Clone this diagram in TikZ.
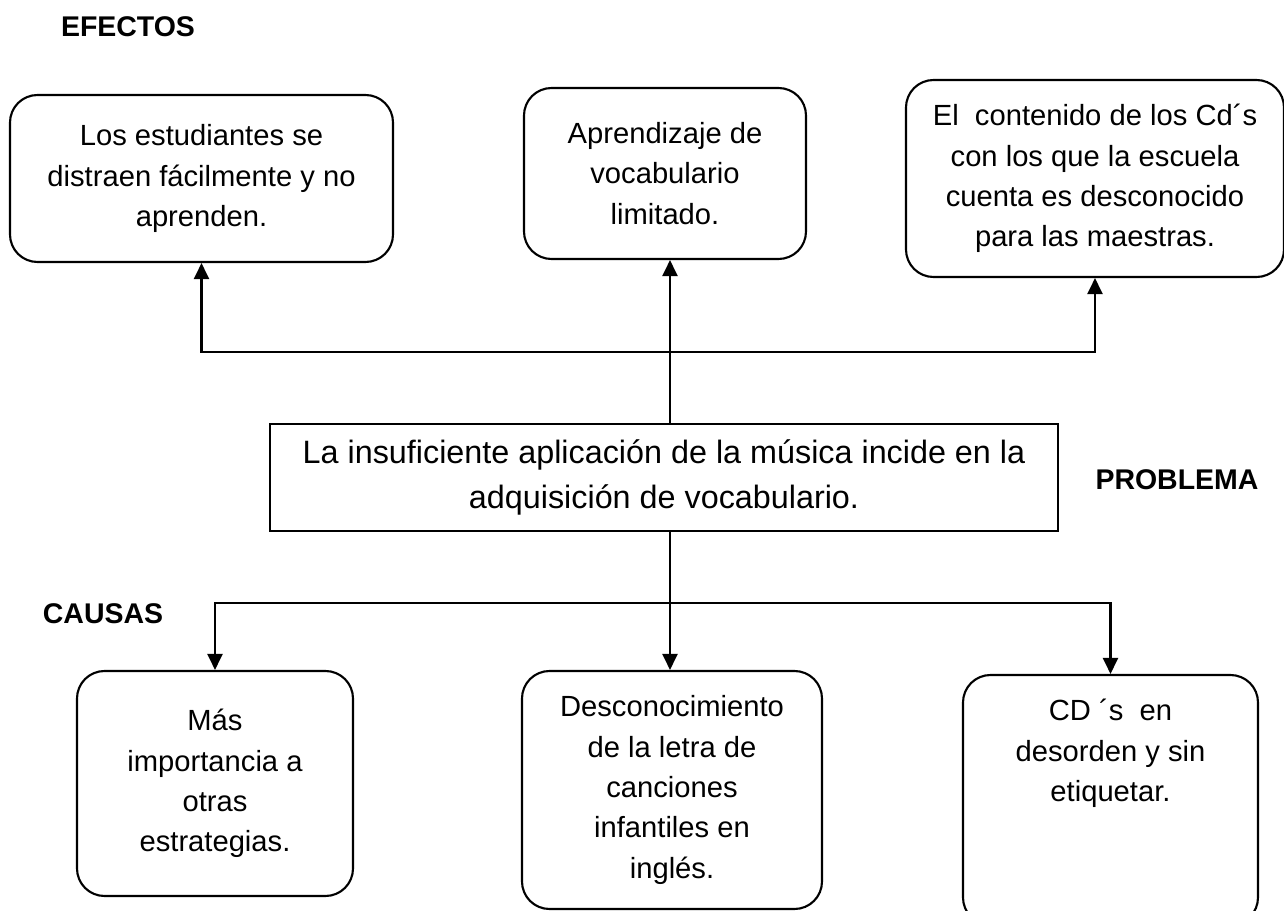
\documentclass[tikz,border=0pt]{standalone}
\usepackage{fontspec}
\setmainfont{Liberation Sans}
\usetikzlibrary{arrows.meta,positioning,calc}

\tikzset{
    caja/.style={draw, line width=1.2pt, rounded corners=0.55cm, align=center, inner sep=0pt,
        font=\fontsize{16.6}{23}\selectfont},
    problema/.style={draw, line width=1.2pt, align=center, inner sep=0pt,
        font=\fontsize{18.4}{25.6}\selectfont},
    titulo/.style={font=\fontsize{16.2}{19}\selectfont\bfseries},
    flecha/.style={line width=1.3pt, -{Triangle[length=0.32cm,width=0.3cm]}}
}

\begin{document}
\begin{tikzpicture}
                \useasboundingbox (0,0) rectangle (25.68,-18.22);

                %Titles
                \node[titulo] at (2.56,-0.54) (efectos) {EFECTOS};
                \node[titulo] at (23.54,-9.6) (problemalbl) {PROBLEMA};
                \node[titulo] at (2.06,-12.28) (causas) {CAUSAS};

                %Nodes
                \node[caja, minimum width=7.66cm, minimum height=3.34cm] at (4.03,-3.57) (t1)
                    {Los estudiantes se\\distraen fácilmente y no\\aprenden.};
                \node[caja, minimum width=5.64cm, minimum height=3.42cm] at (13.3,-3.47) (t2)
                    {Aprendizaje de\\vocabulario\\limitado.};
                \node[caja, minimum width=7.56cm, minimum height=3.94cm] at (21.9,-3.57) (t3)
                    {El\ \ contenido de los Cd´s\\con los que la escuela\\cuenta es desconocido\\para las maestras.};
                \node[problema, minimum width=15.76cm, minimum height=2.14cm] at (13.28,-9.55) (prob)
                    {La insuficiente aplicación de la música incide en la\\adquisición de vocabulario.};
                \node[caja, minimum width=5.52cm, minimum height=4.5cm] at (4.3,-15.67) (b1)
                    {Más\\importancia a\\otras\\estrategias.};
                \node[caja, minimum width=6.0cm, minimum height=4.76cm] at (13.44,-15.8) (b2)
                    {Desconocimiento\\de la letra de\\canciones\\infantiles en\\inglés.};
                \node[caja, minimum width=5.9cm, minimum height=5.0cm] at (22.21,-16.0) (b3) {};
                \node[align=center, inner sep=0pt, font=\fontsize{16.6}{23}\selectfont,
                    anchor=north, below=0.5cm of b3.north] (b3txt)
                    {CD ´s\ \ en\\desorden y sin\\etiquetar.};

                %Lines
                \coordinate (eje) at (13.4,-9.55);
                \coordinate (arriba) at ($(eje |- prob.north)+(0,1.42)$);
                \coordinate (abajo) at ($(eje |- prob.south)+(0,-1.42)$);
                \draw[flecha] (eje |- prob.north) -- (eje |- t2.south);
                \draw[flecha] (arriba) -| (t1.south);
                \draw[flecha] (arriba) -| (t3.south);
                \draw[flecha] (eje |- prob.south) -- (eje |- b2.north);
                \draw[flecha] (abajo) -| (b1.north);
                \draw[flecha] (abajo) -| (b3.north);
\end{tikzpicture}
\end{document}
